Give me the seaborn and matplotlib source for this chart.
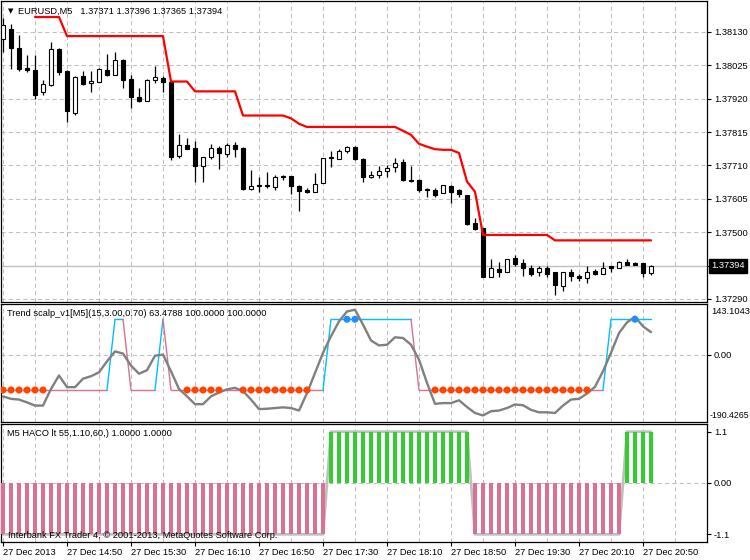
import matplotlib
matplotlib.use("Agg")
import matplotlib.pyplot as plt
import seaborn as sns
import numpy as np
import pandas as pd

# ---------------- data ----------------
symbol_title = "EURUSD,M5   1.37371 1.37396 1.37365 1.37394"
trend_title = "Trend scalp_v1[M5](15,3.00,0.70) 63.4788 100.0000 100.0000"
haco_title = "M5 HACO lt 55,1.10,60,) 1.0000 1.0000"
copyright_text = "Interbank FX Trader 4, \u00a9 2001-2013, MetaQuotes Software Corp."

date_labels = ["27 Dec 2013", "27 Dec 14:50", "27 Dec 15:30", "27 Dec 16:10",
               "27 Dec 16:50", "27 Dec 17:30", "27 Dec 18:10", "27 Dec 18:50",
               "27 Dec 19:30", "27 Dec 20:10", "27 Dec 20:50"]

price_levels = [1.37290, 1.37394, 1.37500, 1.37605, 1.37710, 1.37815, 1.37920, 1.38025, 1.38130]
price_labels = ["1.37290", "", "1.37500", "1.37605", "1.37710", "1.37815", "1.37920", "1.38025", "1.38130"]
current_price = 1.37394

opens = [1.38109, 1.38139, 1.38080, 1.38018, 1.38011, 1.37940, 1.37963, 1.38077, 1.38008, 1.37875,
         1.37992, 1.37970, 1.37973, 1.38010, 1.37995, 1.38043, 1.37983, 1.37926, 1.37914, 1.37979,
         1.37986, 1.37972, 1.37740, 1.37774, 1.37766, 1.37707, 1.37736, 1.37766, 1.37746, 1.37774,
         1.37766, 1.37635, 1.37649, 1.37649, 1.37642, 1.37677, 1.37677, 1.37646, 1.37631, 1.37626,
         1.37654, 1.37732, 1.37730, 1.37754, 1.37768, 1.37730, 1.37673, 1.37679, 1.37692, 1.37705,
         1.37721, 1.37665, 1.37665, 1.37636, 1.37633, 1.37623, 1.37646, 1.37631, 1.37617, 1.37528,
         1.37513, 1.37360, 1.37384, 1.37376, 1.37420, 1.37404, 1.37387, 1.37374, 1.37387, 1.37373,
         1.37329, 1.37374, 1.37363, 1.37355, 1.37378, 1.37368, 1.37392, 1.37387, 1.37405, 1.37402,
         1.37402, 1.37371]
highs = [1.38175, 1.38156, 1.38121, 1.38058, 1.38058, 1.37980, 1.38097, 1.38078, 1.38009, 1.37992,
         1.38008, 1.38008, 1.38017, 1.38062, 1.38066, 1.38045, 1.37995, 1.37954, 1.37981, 1.38024,
         1.37992, 1.37974, 1.37810, 1.37796, 1.37788, 1.37737, 1.37778, 1.37770, 1.37780, 1.37785,
         1.37767, 1.37696, 1.37675, 1.37689, 1.37681, 1.37681, 1.37678, 1.37647, 1.37639, 1.37686,
         1.37734, 1.37754, 1.37761, 1.37772, 1.37772, 1.37733, 1.37693, 1.37707, 1.37712, 1.37733,
         1.37730, 1.37707, 1.37666, 1.37639, 1.37639, 1.37649, 1.37647, 1.37635, 1.37618, 1.37544,
         1.37514, 1.37415, 1.37407, 1.37416, 1.37428, 1.37415, 1.37395, 1.37392, 1.37392, 1.37376,
         1.37376, 1.37383, 1.37369, 1.37392, 1.37383, 1.37405, 1.37393, 1.37410, 1.37415, 1.37407,
         1.37403, 1.37396]
lows = [1.38068, 1.38013, 1.38008, 1.38003, 1.37920, 1.37933, 1.37961, 1.37995, 1.37848, 1.37869,
        1.37963, 1.37940, 1.37971, 1.37990, 1.37994, 1.37954, 1.37892, 1.37911, 1.37913, 1.37969,
        1.37940, 1.37726, 1.37733, 1.37762, 1.37659, 1.37659, 1.37730, 1.37698, 1.37736, 1.37736,
        1.37633, 1.37634, 1.37625, 1.37640, 1.37633, 1.37663, 1.37621, 1.37565, 1.37623, 1.37625,
        1.37653, 1.37705, 1.37729, 1.37749, 1.37728, 1.37659, 1.37670, 1.37670, 1.37673, 1.37688,
        1.37662, 1.37659, 1.37625, 1.37612, 1.37612, 1.37622, 1.37593, 1.37609, 1.37523, 1.37507,
        1.37359, 1.37359, 1.37360, 1.37375, 1.37394, 1.37362, 1.37362, 1.37363, 1.37360, 1.37302,
        1.37316, 1.37347, 1.37347, 1.37341, 1.37365, 1.37367, 1.37376, 1.37386, 1.37395, 1.37395,
        1.37358, 1.37365]
closes = [1.38153, 1.38080, 1.38014, 1.38009, 1.37932, 1.37967, 1.38076, 1.38003, 1.37880, 1.37988,
          1.37966, 1.37977, 1.38014, 1.37995, 1.38042, 1.37980, 1.37924, 1.37913, 1.37980, 1.37988,
          1.37971, 1.37736, 1.37774, 1.37763, 1.37707, 1.37736, 1.37765, 1.37748, 1.37774, 1.37763,
          1.37635, 1.37646, 1.37644, 1.37644, 1.37673, 1.37673, 1.37644, 1.37628, 1.37625, 1.37651,
          1.37733, 1.37736, 1.37756, 1.37768, 1.37730, 1.37673, 1.37679, 1.37693, 1.37702, 1.37719,
          1.37663, 1.37662, 1.37633, 1.37631, 1.37617, 1.37648, 1.37627, 1.37620, 1.37526, 1.37509,
          1.37360, 1.37387, 1.37376, 1.37415, 1.37400, 1.37387, 1.37369, 1.37387, 1.37369, 1.37332,
          1.37373, 1.37363, 1.37355, 1.37376, 1.37369, 1.37387, 1.37388, 1.37406, 1.37398, 1.37398,
          1.37371, 1.37394]

stop_line = [None, None, None, None, 1.38177, 1.38177, 1.38177, 1.38177, 1.38117, 1.38117,
             1.38117, 1.38117, 1.38117, 1.38117, 1.38117, 1.38117, 1.38117, 1.38117, 1.38117, 1.38117,
             1.38117, 1.37974, 1.37974, 1.37974, 1.37943, 1.37943, 1.37943, 1.37943, 1.37943, 1.37943,
             1.37867, 1.37867, 1.37867, 1.37867, 1.37867, 1.37867, 1.37858, 1.37841, 1.37831, 1.37831,
             1.37831, 1.37831, 1.37831, 1.37831, 1.37831, 1.37831, 1.37831, 1.37831, 1.37831, 1.37831,
             1.37819, 1.37806, 1.37778, 1.37769, 1.37761, 1.37759, 1.37759, 1.37749, 1.37659, 1.37627,
             1.37491, 1.37491, 1.37491, 1.37491, 1.37491, 1.37491, 1.37491, 1.37491, 1.37491, 1.37474,
             1.37474, 1.37474, 1.37474, 1.37474, 1.37474, 1.37474, 1.37474, 1.37474, 1.37474, 1.37474,
             1.37474, 1.37474]

trend_value = [-118, -125, -127, -135, -144, -144, -97, -59, -92, -92,
               -68, -61, -50, -19, 9, 3, -31, -54, -44, -3,
               0, -47, -97, -118, -140, -140, -118, -107, -98, -94,
               -103, -127, -154, -153, -151, -149, -151, -158, -109, -52,
               5, 52, 94, 122, 127, 85, 40, 26, 28, 49,
               47, 28, -14, -80, -139, -137, -137, -129, -148, -165,
               -172, -160, -158, -151, -141, -143, -156, -163, -163, -165,
               -144, -127, -125, -110, -91, -47, 5, 61, 91, 107,
               80, 63.4788]
trend_level = [-100, -100, -100, -100, -100, -100, -100, -100, -100, -100,
               -100, -100, -100, -100, 100, 100, -100, -100, -100, -100,
               100, -100, -100, -100, -100, -100, -100, -100, -100, -100,
               -100, -100, -100, -100, -100, -100, -100, -100, -100, -100,
               -100, 100, 100, 100, 100, 100, 100, 100, 100, 100,
               100, 100, -100, -100, -100, -100, -100, -100, -100, -100,
               -100, -100, -100, -100, -100, -100, -100, -100, -100, -100,
               -100, -100, -100, -100, -100, -100, 100, 100, 100, 100,
               100, 100]
trend_min, trend_max = -190.4265, 143.1043

haco = [-1.1, -1.1, -1.1, -1.1, -1.1, -1.1, -1.1, -1.1, -1.1, -1.1,
        -1.1, -1.1, -1.1, -1.1, -1.1, -1.1, -1.1, -1.1, -1.1, -1.1,
        -1.1, -1.1, -1.1, -1.1, -1.1, -1.1, -1.1, -1.1, -1.1, -1.1,
        -1.1, -1.1, -1.1, -1.1, -1.1, -1.1, -1.1, -1.1, -1.1, -1.1,
        -1.1, 1.1, 1.1, 1.1, 1.1, 1.1, 1.1, 1.1, 1.1, 1.1,
        1.1, 1.1, 1.1, 1.1, 1.1, 1.1, 1.1, 1.1, 1.1, -1.1,
        -1.1, -1.1, -1.1, -1.1, -1.1, -1.1, -1.1, -1.1, -1.1, -1.1,
        -1.1, -1.1, -1.1, -1.1, -1.1, -1.1, -1.1, -1.1, 1.1, 1.1,
        1.1, 1.1]

# ---------------- style ----------------
sns.set_theme(style="white")
plt.rcParams["font.family"] = ["Liberation Sans", "DejaVu Sans"]
FS = 6.7
GRID = dict(color="#BEBEBE", linestyle=(0, (4, 3)), linewidth=0.75, zorder=0)

W, H = 750, 560
fig = plt.figure(figsize=(W / 100, H / 100), dpi=100)
fig.patch.set_facecolor("white")


def rect(x0, y0, x1, y1):
    return [x0 / W, 1 - y1 / H, (x1 - x0) / W, (y1 - y0) / H]


ax1 = fig.add_axes(rect(1, 0.5, 707, 302))
ax2 = fig.add_axes(rect(1, 304, 707, 422))
ax3 = fig.add_axes(rect(1, 424, 707, 542))

n = len(opens)
idx = np.arange(n)
XLIM = (-0.25, 88.0)
vgrid = np.arange(0, 88, 4)

for ax in (ax1, ax2, ax3):
    ax.set_facecolor("white")
    ax.set_xlim(*XLIM)
    for s in ax.spines.values():
        s.set_color("black")
        s.set_linewidth(0.9)
    for gx in vgrid:
        ax.axvline(gx, **GRID)
    ax.yaxis.tick_right()
    ax.tick_params(axis="y", direction="out", length=3, width=0.8, pad=2,
                   labelsize=FS, colors="black", left=False, right=True)
    ax.grid(False)

# ---------------- main price panel ----------------
ax1.set_ylim(1.37280, 1.38229)
for p in price_levels:
    if p != current_price:
        ax1.axhline(p, **GRID)
ax1.axhline(current_price, color="#C0C0C0", linewidth=1.0, zorder=1)

df = pd.DataFrame({"i": idx, "open": opens, "high": highs, "low": lows, "close": closes})
ax1.vlines(df["i"], df["low"], df["high"], color="black", linewidth=0.9, zorder=2)
body_bottom = np.minimum(df["open"], df["close"])
body_height = np.maximum(np.abs(df["close"] - df["open"]), 0.000012)
fills = ["white" if c > o else "black" for o, c in zip(opens, closes)]
ax1.bar(df["i"], body_height, bottom=body_bottom, width=0.62, color=fills,
        edgecolor="black", linewidth=0.8, zorder=3)

stop_df = pd.DataFrame({"i": idx, "stop": stop_line}).dropna()
sns.lineplot(data=stop_df, x="i", y="stop", ax=ax1, color="#FF0000",
             linewidth=1.6, zorder=4, legend=False)

ax1.set_yticks(price_levels)
ax1.set_yticklabels(price_labels)
ax1.tick_params(axis="x", bottom=False, labelbottom=False)
ax1.set_xlabel("")
ax1.set_ylabel("")

fig.text(7.5 / W, 1 - 11 / H, "\u25bc", fontsize=5, family="DejaVu Sans",
         ha="left", va="center", color="black")
fig.text(18 / W, 1 - 11 / H, symbol_title, fontsize=FS, ha="left", va="center", color="black")
fig.text(711 / W, 1 - 266 / H, "1.37394", fontsize=FS, ha="left", va="center", color="white",
         bbox=dict(facecolor="black", edgecolor="black", boxstyle="square,pad=0.25"))

# ---------------- Trend scalp panel ----------------
ax2.set_ylim(trend_min, trend_max)
ax2.axhline(0, **GRID)
cyan, pink = "#00BFFF", "#DB7093"
for i in range(n - 1):
    col = cyan if trend_level[i + 1] > 0 else pink
    ax2.plot([i, i + 1], [trend_level[i], trend_level[i + 1]], color=col, linewidth=1.0, zorder=2)

tdf = pd.DataFrame({"i": idx, "v": trend_value})
sns.lineplot(data=tdf, x="i", y="v", ax=ax2, color="#808080", linewidth=1.7, zorder=3, legend=False)
low_df = pd.DataFrame({"i": idx[np.array(trend_value) < -100], "lvl": -100})
high_df = pd.DataFrame({"i": idx[np.array(trend_value) > 100], "lvl": 100})
sns.scatterplot(data=low_df, x="i", y="lvl", ax=ax2, color="#FF4500", s=26,
                edgecolor="none", zorder=4, legend=False)
sns.scatterplot(data=high_df, x="i", y="lvl", ax=ax2, color="#1E90FF", s=26,
                edgecolor="none", zorder=4, legend=False)
ax2.set_yticks([0])
ax2.set_yticklabels(["0.00"])
ax2.tick_params(axis="x", bottom=False, labelbottom=False)
ax2.set_xlabel("")
ax2.set_ylabel("")
fig.text(7 / W, 1 - 313 / H, trend_title, fontsize=FS, ha="left", va="center", color="black")
fig.text(711 / W, 1 - 312 / H, "143.1043", fontsize=FS, ha="left", va="center", color="black")
fig.text(710 / W, 1 - 415 / H, "-190.4265", fontsize=6.3, ha="left", va="center", color="black")

# ---------------- HACO panel ----------------
ax3.set_ylim(-1.265, 1.265)
ax3.axhline(0, **GRID)
hdf = pd.DataFrame({"i": idx, "h": haco})
sns.lineplot(data=hdf, x="i", y="h", ax=ax3, color="#C0C0C0", linewidth=2.0, zorder=2, legend=False)
bar_cols = ["#32CD32" if h > 0 else "#DB7093" for h in haco]
ax3.bar(hdf["i"], hdf["h"], width=0.4, color=bar_cols, linewidth=0, zorder=3)
ax3.set_yticks([-1.1, 0, 1.1])
ax3.set_yticklabels(["-1.1", "0.00", "1.1"])
ax3.set_xticks(np.arange(0, n, 8))
ax3.set_xticklabels(date_labels)
ax3.tick_params(axis="x", direction="out", length=3, width=0.8, pad=1.5,
                labelsize=FS, colors="black", bottom=True)
for lbl in ax3.get_xticklabels():
    lbl.set_horizontalalignment("left")
ax3.set_xlabel("")
ax3.set_ylabel("")
fig.text(7 / W, 1 - 433 / H, haco_title, fontsize=FS, ha="left", va="center", color="black")
fig.text(8 / W, 1 - 535 / H, copyright_text, fontsize=FS, ha="left", va="center", color="black")

fig.savefig("out.png", dpi=100, facecolor="white")
